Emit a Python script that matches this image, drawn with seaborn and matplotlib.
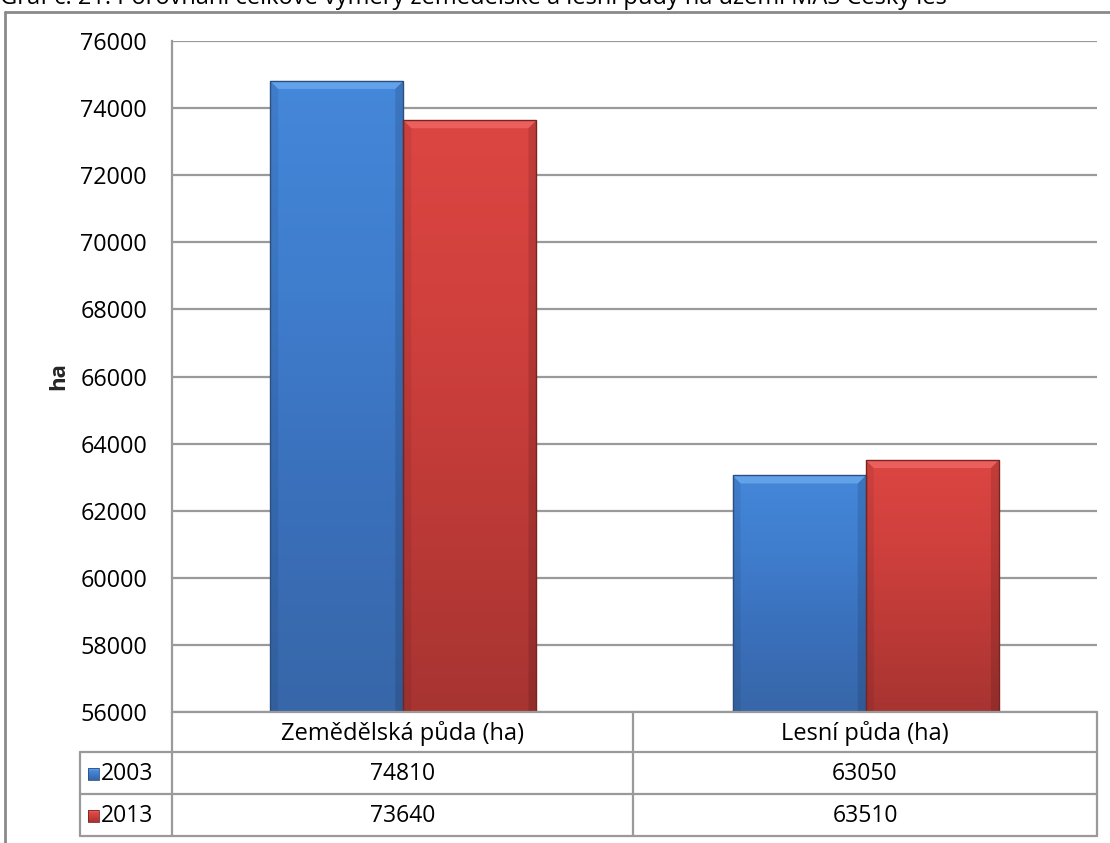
import numpy as np
import pandas as pd
import matplotlib
matplotlib.use("Agg")
import matplotlib.pyplot as plt
from matplotlib.patches import Rectangle, Polygon
from matplotlib.colors import LinearSegmentedColormap
import seaborn as sns

# ---- data ----
categories = ["Zemědělská půda (ha)", "Lesní půda (ha)"]
years = ["2003", "2013"]
values_2003 = [74810, 63050]
values_2013 = [73640, 63510]
y_ticks = [56000, 58000, 60000, 62000, 64000, 66000, 68000, 70000, 72000, 74000, 76000]
title = "Graf č. 21: Porovnání celkové výměry zemědělské a lesní půdy na území MAS Český les"
y_label = "ha"

df = pd.DataFrame({
    "kategorie": categories * 2,
    "rok": [years[0]] * len(categories) + [years[1]] * len(categories),
    "hodnota": values_2003 + values_2013,
})

sns.set_theme(style="white")
plt.rcParams["font.family"] = ["Open Sans", "DejaVu Sans"]

W, H = 1110, 843
fig = plt.figure(figsize=(W / 100, H / 100), dpi=100)
fig.patch.set_facecolor("white")

def fx(px):
    return px / W

def fy(py):
    return 1 - py / H

face = {"2003": "#4283D6", "2013": "#D94340"}
grad = {
    "2003": ["#4587DA", "#3F7DCD", "#3A6FBA", "#3767A9"],
    "2013": ["#DC4642", "#D0403D", "#BC3A37", "#A73431"],
}
bevel = {"2003": "#6AAAEE", "2013": "#F06864"}
edge = {"2003": "#2B4F80", "2013": "#7A2422"}

ax = fig.add_axes([fx(172), fy(712), fx(1097) - fx(172), fy(41) - fy(712)])
sns.barplot(data=df, x="kategorie", y="hodnota", hue="rok", order=categories,
            hue_order=years, palette=face, width=0.576, gap=0, ax=ax,
            legend=False, saturation=1, edgecolor="none", linewidth=0)

ymin, ymax = y_ticks[0], y_ticks[-1]
ax.set_ylim(ymin, ymax)
xlim = ax.get_xlim()
ax.set_yticks(y_ticks)
ax.set_yticklabels([str(t) for t in y_ticks], fontsize=16.8, color="black")
ax.tick_params(axis="y", length=0, pad=18)
ax.set_xticks([])
ax.set_xlabel("")
ax.set_ylabel(y_label, fontsize=16, fontweight="bold", labelpad=8)
ax.yaxis.grid(True, color="#9a9a9a", linewidth=1.6)
ax.set_axisbelow(True)
for s in ["top", "right", "bottom"]:
    ax.spines[s].set_visible(False)
ax.spines["left"].set_color("#9a9a9a")
ax.spines["left"].set_linewidth(1.6)

# pixel -> data scale for bevel sizes
cat_px = (1097 - 172) / (xlim[1] - xlim[0])
val_px = (712 - 41) / (ymax - ymin)
dx = 8 / cat_px
dy = 8 / val_px

patches = [p for p in ax.patches if isinstance(p, Rectangle) and p.get_width() > 0]
patches_sorted = sorted(patches, key=lambda p: p.get_x())
for i, p in enumerate(patches_sorted):
    yr = years[i % 2]
    cmap = LinearSegmentedColormap.from_list("g" + yr, grad[yr][::-1])
    x0 = p.get_x()
    w = p.get_width()
    top = p.get_y() + p.get_height()
    g = np.linspace(0, 1, 256).reshape(-1, 1)
    im = ax.imshow(g, cmap=cmap, aspect="auto", origin="lower",
                   extent=[x0, x0 + w, ymin, top], zorder=3)
    im.set_clip_path(p)
    p.set_zorder(3)
    # top bevel
    ax.add_patch(Polygon([(x0, top), (x0 + w, top), (x0 + w - dx, top - dy),
                          (x0 + dx, top - dy)], closed=True, facecolor=bevel[yr],
                         edgecolor="none", alpha=0.8, zorder=4))
    # side bevels (slightly darker)
    ax.add_patch(Polygon([(x0, top), (x0 + dx, top - dy), (x0 + dx, ymin), (x0, ymin)],
                         closed=True, facecolor="black", alpha=0.07,
                         edgecolor="none", zorder=4))
    ax.add_patch(Polygon([(x0 + w, top), (x0 + w - dx, top - dy), (x0 + w - dx, ymin),
                          (x0 + w, ymin)], closed=True, facecolor="black", alpha=0.12,
                         edgecolor="none", zorder=4))
    ax.add_patch(Rectangle((x0, ymin), w, top - ymin, fill=False,
                           edgecolor=edge[yr], linewidth=1.0, zorder=5))
ax.set_xlim(xlim)
ax.set_ylim(ymin, ymax)

# ---- overlay axes for frame, title and data table ----
ov = fig.add_axes([0, 0, 1, 1], zorder=-1)
ov.set_xlim(0, W)
ov.set_ylim(H, 0)
ov.axis("off")
frame_c = "#8a8a8a"
ov.plot([5, W + 5], [12, 12], color=frame_c, lw=2)
ov.plot([5, 5], [12, H + 5], color=frame_c, lw=2)
ov.text(0, 4, title, fontsize=17, va="baseline", ha="left", color="black")

tab = fig.add_axes([0, 0, 1, 1], zorder=5)
tab.set_xlim(0, W)
tab.set_ylim(H, 0)
tab.axis("off")
lc = "#9a9a9a"
lw = 1.6
col_x = [80, 172, 633, 1097]
row_y = [712, 752, 794, 836]
tab.plot([172, 1097], [712, 712], color=lc, lw=lw)
for x in col_x[1:]:
    tab.plot([x, x], [712, 836], color=lc, lw=lw)
tab.plot([80, 80], [752, 836], color=lc, lw=lw)
for y in row_y[1:]:
    tab.plot([80, 1097], [y, y], color=lc, lw=lw)
for j, c in enumerate(categories):
    tab.text((col_x[j + 1] + col_x[j + 2]) / 2, (row_y[0] + row_y[1]) / 2 + 1, c,
             fontsize=17, ha="center", va="center", color="black")
series = [values_2003, values_2013]
for i, yr in enumerate(years):
    yc = (row_y[i + 1] + row_y[i + 2]) / 2 + 1
    cmap = LinearSegmentedColormap.from_list("l" + yr, [bevel[yr]] + grad[yr])
    tab.imshow(np.linspace(0, 1, 64).reshape(-1, 1), cmap=cmap, aspect="auto",
               extent=[88, 99, yc + 6, yc - 6], zorder=6)
    tab.add_patch(Rectangle((88, yc - 6), 11, 12, fill=False, edgecolor=edge[yr],
                            lw=0.6, zorder=7))
    tab.text(101, yc, yr, fontsize=16.5, ha="left", va="center", color="black")
    for j in range(len(categories)):
        tab.text((col_x[j + 1] + col_x[j + 2]) / 2, yc, str(series[i][j]),
                 fontsize=16.5, ha="center", va="center", color="black")
tab.set_xlim(0, W)
tab.set_ylim(H, 0)

fig.savefig("out.png", dpi=100, facecolor="white")
